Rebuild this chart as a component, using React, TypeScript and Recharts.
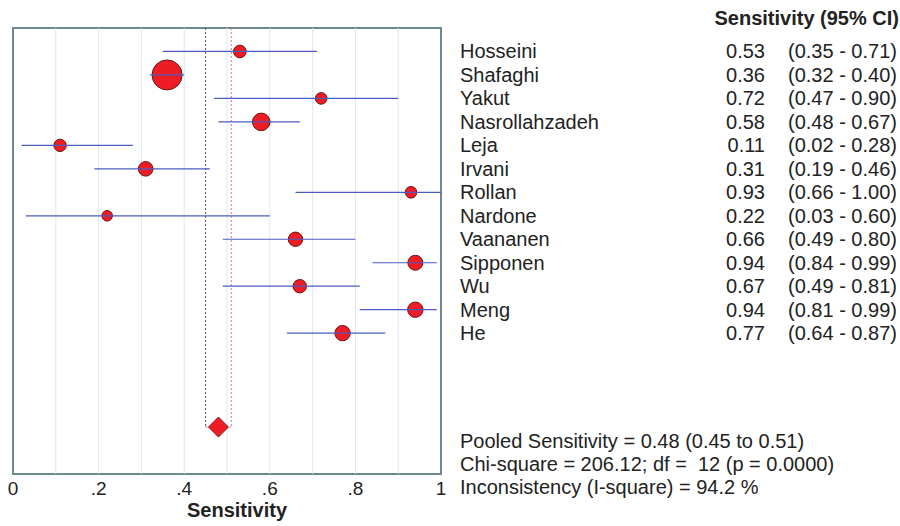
import { ComposedChart, Scatter, XAxis, YAxis, ZAxis, ErrorBar, ReferenceLine, ReferenceArea } from 'recharts';

const studies = ['Hosseini', 'Shafaghi', 'Yakut', 'Nasrollahzadeh', 'Leja', 'Irvani', 'Rollan', 'Nardone', 'Vaananen', 'Sipponen', 'Wu', 'Meng', 'He'];
const sensitivity = [0.53, 0.36, 0.72, 0.58, 0.11, 0.31, 0.93, 0.22, 0.66, 0.94, 0.67, 0.94, 0.77];
const ciLow = [0.35, 0.32, 0.47, 0.48, 0.02, 0.19, 0.66, 0.03, 0.49, 0.84, 0.49, 0.81, 0.64];
const ciHigh = [0.71, 0.4, 0.9, 0.67, 0.28, 0.46, 1.0, 0.6, 0.8, 0.99, 0.81, 0.99, 0.87];
// relative study weights (marker area)
const weights = [5.3, 30, 4.5, 10.3, 5.1, 7.1, 4.5, 3.7, 6.9, 7.5, 6, 7.9, 7.9];

const pooled = 0.48;
const pooledLow = 0.45;
const pooledHigh = 0.51;
const pooledRow = 17;
const rowCount = 19;

const xTicks = [0, 0.2, 0.4, 0.6, 0.8, 1];
const gridX = [0.1, 0.2, 0.3, 0.4, 0.5, 0.6, 0.7, 0.8, 0.9];

const summaryLines = [
  'Pooled Sensitivity = 0.48 (0.45 to 0.51)',
  'Chi-square = 206.12; df =  12 (p = 0.0000)',
  'Inconsistency (I-square) = 94.2 %',
];

const fmt = (v: number) => v.toFixed(2);

const data = studies.map((name, i) => ({
  name,
  x: sensitivity[i],
  y: i + 1,
  err: [sensitivity[i] - ciLow[i], ciHigh[i] - sensitivity[i]],
  w: weights[i],
}));
const pooledData = [{ x: pooled, y: pooledRow }];

const W = 900;
const H = 526;
const M = { top: 28, right: 459, left: 13, bottom: 22 };
const plotH = H - M.top - M.bottom - 30;
const rowY = (i: number) => M.top + (i * plotH) / rowCount;

const font = 'Arial, "Liberation Sans", sans-serif';
const textColor = '#222';

const Diamond = (props: any) => {
  const { cx, cy } = props;
  const r = 10;
  return (
    <polygon
      points={`${cx},${cy - r} ${cx + r},${cy} ${cx},${cy + r} ${cx - r},${cy}`}
      fill="#ee1c24"
      stroke="#8b1a1a"
      strokeWidth={1}
    />
  );
};

const NoShape = () => <g />;

export default function App() {
  return (
    <div style={{ position: 'absolute', left: 0, top: 0, width: W, height: H, background: '#fff' }}>
      <ComposedChart width={W} height={H} margin={M}>
        <XAxis
          type="number"
          dataKey="x"
          domain={[0, 1]}
          ticks={xTicks}
          allowDataOverflow
          axisLine={false}
          tickLine={false}
          height={30}
          tickFormatter={(v: number) => (v === 0 ? '0' : v === 1 ? '1' : String(v).replace('0.', '.'))}
          tick={{ fill: textColor, fontSize: 19, fontFamily: font }}
        />
        <YAxis type="number" dataKey="y" domain={[0, rowCount]} reversed hide width={0} />
        <ZAxis type="number" dataKey="w" domain={[0, 30]} range={[0, 707]} />
        {gridX.map((g) => (
          <ReferenceLine key={g} x={g} stroke="#dde7f3" strokeWidth={1} />
        ))}
        <ReferenceLine
          segment={[{ x: pooledLow, y: 0 }, { x: pooledLow, y: pooledRow }]}
          stroke="#6a4a68"
          strokeDasharray="2 2"
        />
        <ReferenceLine
          segment={[{ x: pooledHigh, y: 0 }, { x: pooledHigh, y: pooledRow }]}
          stroke="#d8708a"
          strokeDasharray="2 2"
        />
        <ReferenceLine
          segment={[{ x: pooledLow, y: pooledRow }, { x: pooledHigh, y: pooledRow }]}
          stroke="#b07090"
          strokeDasharray="2 2"
        />
        <Scatter data={data} shape="circle" fill="#ee1c24" stroke="#6a1515" strokeWidth={1} isAnimationActive={false} />
        <Scatter data={data} shape={NoShape} isAnimationActive={false}>
          <ErrorBar
            dataKey="err"
            direction="x"
            width={0}
            stroke="#4b5bc0"
            strokeWidth={1.2}
            isAnimationActive={false}
            {...({ zIndex: 700 } as any)}
          />
        </Scatter>
        <Scatter data={pooledData} shape={Diamond} isAnimationActive={false} />
        <ReferenceArea x1={0} x2={1} y1={0} y2={rowCount} fill="none" stroke="#6e8893" strokeWidth={2} />
      </ComposedChart>
      <svg
        width={W}
        height={H}
        style={{ position: 'absolute', left: 0, top: 0, pointerEvents: 'none' }}
        fontFamily={font}
        fill={textColor}
      >
        <text x={899} y={25} textAnchor="end" fontSize={20} fontWeight="bold">
          Sensitivity (95% CI)
        </text>
        {studies.map((name, i) => (
          <g key={name} fontSize={20}>
            <text x={460} y={rowY(i + 1) + 7}>{name}</text>
            <text x={765} y={rowY(i + 1) + 7} textAnchor="end">{fmt(sensitivity[i])}</text>
            <text x={788} y={rowY(i + 1) + 7}>{`(${fmt(ciLow[i])} - ${fmt(ciHigh[i])})`}</text>
          </g>
        ))}
        {summaryLines.map((line, i) => (
          <text key={line} x={460} y={448 + i * 23} fontSize={20} xmlSpace="preserve" style={{ whiteSpace: 'pre' }}>
            {line}
          </text>
        ))}
        <text x={237} y={517} textAnchor="middle" fontSize={20} fontWeight="bold">
          Sensitivity
        </text>
      </svg>
    </div>
  );
}
